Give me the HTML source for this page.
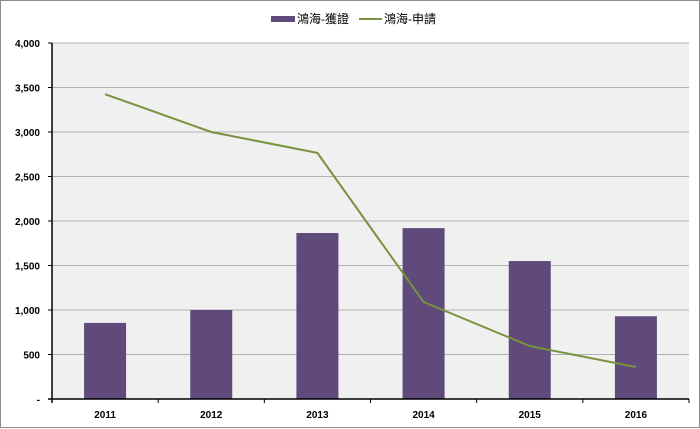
<!DOCTYPE html>
<html><head><meta charset="utf-8"><style>
body{margin:0;background:#fff;}
#wrap{position:relative;width:700px;height:428px;box-sizing:border-box;border:1px solid #8c8c8c;background:#fff;}
svg{position:absolute;left:0;top:0;}
text{font-family:"Liberation Sans","Noto Sans CJK TC",sans-serif;}
</style></head><body>
<div id="wrap">
<svg id="chart" width="700" height="428">
<rect x="51" y="42" width="637" height="356" fill="#f0f0f0"/>
<g id="grid"></g><g id="bars"></g><g id="line"></g><g id="axes"></g>
<g>
<rect x="270" y="15" width="24" height="6" fill="#604a7b"/>
<text x="296" y="22" font-size="12" fill="#000">鴻海-獲證</text>
<line x1="358" y1="18" x2="381" y2="18" stroke="#77933c" stroke-width="2"/>
<text x="383" y="22" font-size="12" fill="#000">鴻海-申請</text>
</g>
</svg></div>
<script>
const categories=["2011","2012","2013","2014","2015","2016"];
const granted=[855,1000,1865,1920,1550,930];
const applied=[3425,3000,2765,1090,595,360];
const yTicks=[0,500,1000,1500,2000,2500,3000,3500,4000];
const yTickLabels=["-","500","1,000","1,500","2,000","2,500","3,000","3,500","4,000"];
const L=51,R=688,T=42,B=398,YMAX=4000;
const bw=(R-L)/categories.length;
const x=i=>L+bw*(i+0.5);
const y=v=>B-(v/YMAX)*(B-T);
const ns="http://www.w3.org/2000/svg";
function mk(tag,attrs,parent){const e=document.createElementNS(ns,tag);for(const k in attrs)e.setAttribute(k,attrs[k]);document.getElementById(parent).appendChild(e);return e;}
yTicks.forEach((t,i)=>{
 if(t>0){const g=mk('line',{x1:L,x2:R,y1:y(t),y2:y(t),stroke:'#b0b0b0','stroke-width':1},'grid');
 
 }
 const tk=mk('line',{x1:L-4,x2:L,y1:y(t),y2:y(t),stroke:'#000'},'axes');
 
 
 const tx=mk('text',{x:L-12,y:y(t)+4,'text-anchor':'end','font-size':'10','font-weight':'bold'},'axes');
 tx.textContent=yTickLabels[i];
 
 
});
categories.forEach((c,i)=>{
 const b=mk('rect',{x:x(i)-21,y:y(granted[i]),width:42,height:B-y(granted[i]),fill:'#604a7b'},'bars');
 
 
 const tx=mk('text',{x:x(i),y:B+19,'text-anchor':'middle','font-size':'10','font-weight':'bold'},'axes');
 tx.textContent=c;
 
 
 const tk=mk('line',{x1:L+bw*(i+1),x2:L+bw*(i+1),y1:B,y2:B+4,stroke:'#000'},'axes');
 
 
});
const pl=mk('polyline',{points:applied.map((v,i)=>x(i)+','+y(v)).join(' '),fill:'none',stroke:'#77933c','stroke-width':2},'line');


const ya=mk('line',{x1:L,x2:L,y1:T,y2:B+4,stroke:'#000','stroke-width':1.5},'axes');


const xa=mk('line',{x1:L-4,x2:R,y1:B,y2:B,stroke:'#000','stroke-width':1.5},'axes');


</script>
</body></html>
